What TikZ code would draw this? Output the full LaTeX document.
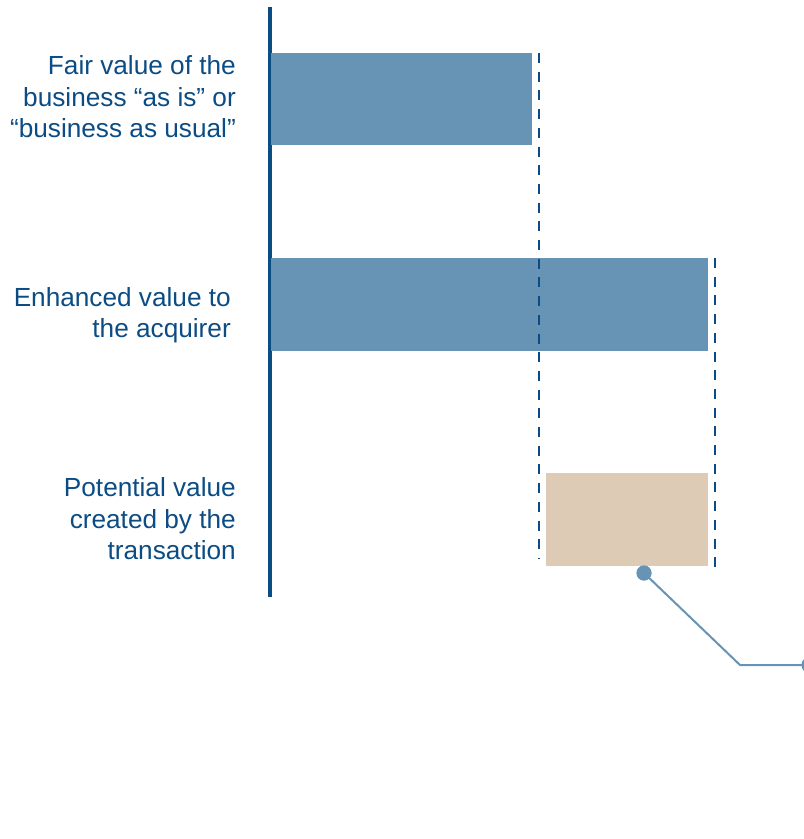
\documentclass[tikz,border=0pt]{standalone}
\usepackage{fontspec}
\setmainfont{Liberation Sans}
\definecolor{navy}{HTML}{0B4C84}
\definecolor{steel}{HTML}{6794B4}
\definecolor{sand}{HTML}{DDCBB5}
\begin{document}
\begin{tikzpicture}[x=1pt,y=-1pt,
  label/.style={anchor=east,align=right,text=navy,inner sep=0pt,
    font=\fontsize{26.2}{31.5}\selectfont},
  bar/.style={anchor=north west,inner sep=0pt,outer sep=0pt},
  guide/.style={draw=navy,line width=2.8pt,dash pattern=on 10pt off 8.7pt},
  pin/.style={circle,fill=steel,inner sep=0pt,minimum size=15pt},
  leader/.style={draw=steel,line width=2pt}]
  \useasboundingbox (0,0) rectangle (804,839);
  \clip (0,0) rectangle (804,839);

  % value axis
  \coordinate (axtop) at (269.5,7);
  \coordinate (axbot) at (269.5,597);
  \draw[navy,line width=4pt] (axtop) -- (axbot);

  % bars
  \node (fair) [bar,fill=steel,minimum width=261pt,minimum height=92pt] at (271,53) {};
  \node (enh)  [bar,fill=steel,minimum width=437pt,minimum height=93pt] at (271,258) {};
  \node (pot)  [bar,fill=sand,minimum width=162pt,minimum height=93pt] at (546,473) {};

  % dashed guides marking the bar ends
  \coordinate (g1top) at (539,53);
  \coordinate (g1bot) at (539,558);
  \coordinate (g2top) at (715,258);
  \coordinate (g2bot) at (715,567);
  \draw[guide] (g1top) -- (g1bot);
  \draw[guide] (g2top) -- (g2bot);

  % labels
  \node (lfair) [label] at (236,97) {Fair value of the\\business “as is” or\\“business as usual”};
  \node (lenh)  [label] at (231,315) {Enhanced value to\\the acquirer};
  \node (lpot)  [label] at (236,519) {Potential value\\created by the\\transaction};

  % callout leader
  \node (pin1) [pin] at (644,573) {};
  \coordinate (elbow) at (740,665);
  \node (pin2) [pin] at (809,665) {};
  \draw[leader] (pin1.center) -- (elbow) -- (pin2.center);
  \node[pin] at (644,573) {};
  \node[pin] at (809,665) {};
\end{tikzpicture}
\end{document}
